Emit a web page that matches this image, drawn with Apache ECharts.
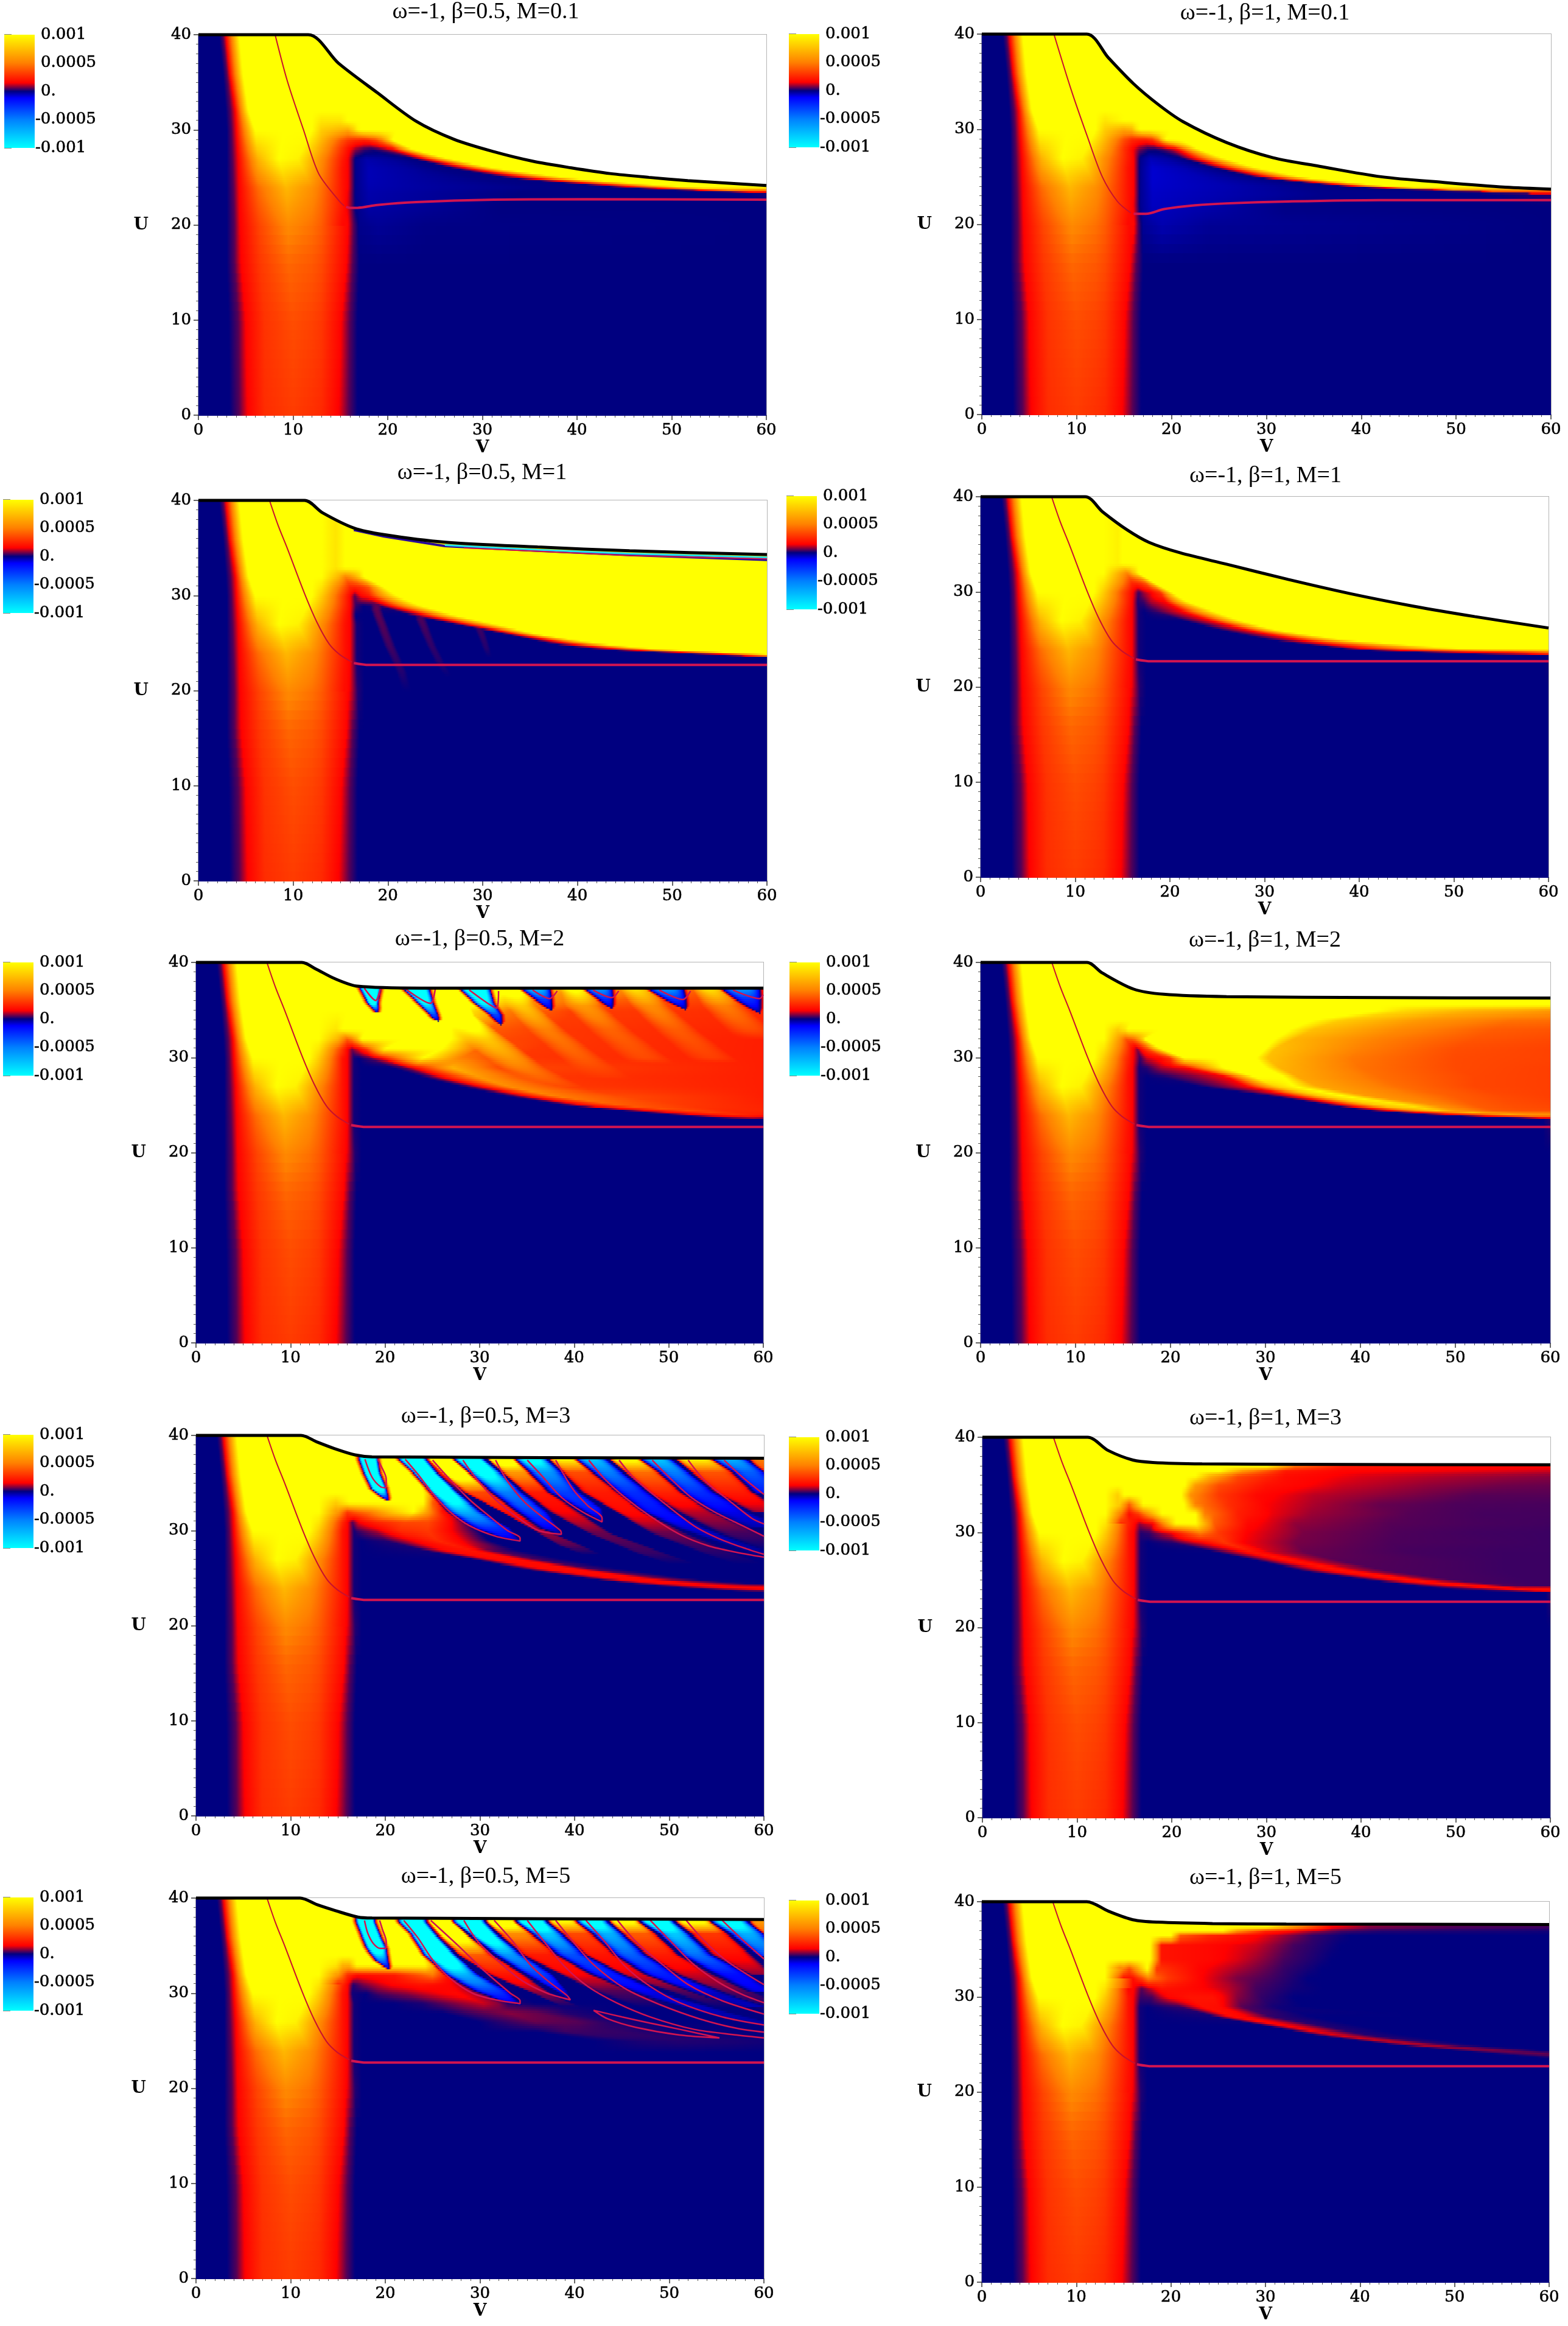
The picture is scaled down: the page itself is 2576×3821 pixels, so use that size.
<!DOCTYPE html>
<html>
<head>
<meta charset="utf-8">
<script src="https://cdn.jsdelivr.net/npm/echarts@6/dist/echarts.min.js"></script>
<style>html,body{margin:0;background:#fff}#main{width:2576px;height:3821px}</style>
</head>
<body>
<div id="main"></div>
<script>
"use strict"

// field values are in units of 0.0001, rows are [U, [V, value, V, value, ...]]
const colorStops = [[-10, [0, 255, 255]], [-5, [0, 128, 255]], [-1.2, [0, 0, 255]], [0, [0, 0, 128]], [1.5, [255, 0, 0]], [5, [255, 128, 0]], [10, [255, 255, 0]]];
const legendTicks = [-0.001, -0.0005, 0, 0.0005, 0.001];

// V <= 13 looks the same in every panel
const leftRows = [
    [0, [0, 0, 3.3, 0, 4.3, .5, 5.2, 1.5, 7, 2.7, 10, 3.1, 12, 2.8, 13, 2.6]],
    [10, [0, 0, 3.2, 0, 4.2, .5, 5, 1.5, 7, 2.9, 10, 3.6, 12, 3.3, 13, 3]],
    [16, [0, 0, 3, 0, 3.8, .5, 4.5, 1.5, 6.5, 3, 9.5, 4.3, 12, 3.9, 13, 3.5]],
    [20, [0, 0, 3, 0, 3.8, .5, 4.4, 1.5, 6.5, 3.4, 9.5, 5.4, 12, 4.6, 13, 4]],
    [24, [0, 0, 3, 0, 3.7, .5, 4.3, 1.5, 6.3, 4.4, 9.3, 7.2, 12, 5.6, 13, 4.6]],
    [27, [0, 0, 3, 0, 3.6, .5, 4.2, 1.5, 6.3, 7, 8.5, 10, 10.5, 9.5, 13, 5.5]],
    [30, [0, 0, 3, 0, 3.5, .5, 4, 1.5, 6, 10, 9, 10, 12, 10, 13, 8]],
    [32, [0, 0, 2.9, 0, 3.4, .5, 3.9, 1.5, 5.3, 10, 9, 10, 12, 10, 13, 10]],
    [36, [0, 0, 2.6, 0, 3, .5, 3.3, 1.5, 4.7, 10, 9, 10, 12, 10, 13, 10]],
    [40, [0, 0, 2.2, 0, 2.6, .5, 2.9, 1.5, 4.3, 10, 9, 10, 12, 10, 13, 10]]
];
const tailRows = [
    [0, [14.8, 1.5, 15.9, .5, 16.8, 0, 17.5, 0, 60, 0]],
    [10, [15, 1.6, 16, .5, 16.8, 0, 17.5, 0, 60, 0]],
    [16, [15.6, 1.6, 16.3, .5, 17, 0, 17.5, 0, 60, 0]],
    [20, [15.6, 1.8, 16, 1.4, 16.8, .2, 17.5, 0, 60, 0]]
];
const wall = [15.5, 2, 16, 1.5, 16.7, .1, 17.5, 0];
const wallM1 = [15.4, 2, 16, 1.5, 16.7, .1, 17.5, 0];

const rowsB05M01 = [
    [20, [15.7, 1.7, 16.4, .5, 17, -.1, 19, -.2, 24, -.05, 60, 0]],
    [22, [15.2, 2, 15.8, 1.3, 16.6, -.05, 18, -.35, 24, -.2, 32, 0, 57, 0, 59, 0, 60, 0, 60, 0]],
    [23.4, [15.2, 2, 15.8, 1.4, 16.6, -.1, 18, -.4, 24, -.25, 34, 0, 56, 0, 58, 0, 60, .1, 60, .1]],
    [24, [15.2, 2, 15.8, 1.5, 16.6, -.1, 18, -.45, 24, -.3, 36, -.05, 44.5, 0, 46.5, 1.5, 52, 10, 60, 10]],
    [25, [15.2, 2, 15.8, 1.5, 16.6, -.1, 18, -.5, 23, -.3, 29, -.05, 32.5, 0, 34.5, 1.5, 39, 10, 60, 10]],
    [26, [15.2, 2, 15.8, 1.5, 16.6, -.1, 18, -.5, 22, -.3, 25, -.05, 27, 0, 28.5, 1.5, 31.5, 10, 60, 10]],
    [27, [15.2, 2.2, 15.8, 1.5, 16.6, -.1, 17.8, -.4, 20, -.25, 22, -.05, 22.7, 0, 23.8, 1.5, 26.5, 10, 60, 10]],
    [28, [15, 3, 15.8, 1.8, 16.6, .8, 17.5, .3, 18.3, .1, 19, .3, 19.8, .8, 20.6, 1.5, 22.7, 10, 60, 10]],
    [29, [15, 4, 15.8, 3, 16.6, 2.6, 17.5, 2.4, 18, 2.6, 18.8, 3.5, 19.4, 5, 20, 7.5, 20.5, 10, 60, 10]],
    [30, [15, 7, 15.8, 6.5, 16.4, 8, 16.8, 9.5, 17.2, 10, 18, 10, 19, 10, 20, 10, 21, 10, 60, 10]],
    [31, [15, 9, 15.8, 10, 60, 10]],
    [32, [15, 10, 60, 10]]
];
const rowsB1M01 = [
    [20, [16, 1.7, 16.5, .5, 17, -.2, 19, -.45, 24, -.2, 60, 0]],
    [22, [15.4, 2, 16, 1.4, 16.7, -.15, 18, -.6, 24, -.4, 32, -.05, 57, 0, 59, 0, 60, 0, 60, 0]],
    [23.2, [15.4, 2, 16, 1.5, 16.7, -.15, 18, -.65, 25, -.45, 36, -.1, 54, 0, 60, .2, 60, .2, 60, .2]],
    [24, [15.4, 2, 16, 1.5, 16.7, -.15, 18, -.7, 26, -.45, 34, -.1, 38.5, 0, 40, 1.5, 43.5, 10, 60, 10]],
    [25, [15.4, 2, 16, 1.5, 16.7, -.15, 18, -.75, 23, -.5, 27, -.15, 28.7, 0, 30, 1.5, 33.8, 10, 60, 10]],
    [26, [15.4, 2, 16, 1.5, 16.7, -.15, 18, -.75, 21, -.5, 23.5, -.15, 24.5, 0, 25.7, 1.5, 29, 10, 60, 10]],
    [27, [15.4, 2.2, 16, 1.5, 16.7, -.1, 17.8, -.5, 19.5, -.3, 20.5, -.1, 21, 0, 22.3, 1.5, 25.5, 10, 60, 10]],
    [28, [15, 2.8, 15.8, 1.7, 16.6, .7, 17.5, .2, 18.2, .15, 19, .4, 19.8, .9, 20.5, 1.5, 22.8, 10, 60, 10]],
    [29, [15, 3.6, 15.8, 2.6, 16.6, 2.4, 17.3, 2.4, 18, 3, 18.6, 5, 19, 8, 19.4, 10, 21, 10, 60, 10]],
    [30, [15, 6.5, 15.8, 7, 16.3, 9, 16.7, 10, 17.5, 10, 18, 10, 19, 10, 20, 10, 21, 10, 60, 10]],
    [31, [15, 10, 60, 10]]
];
const rowsB05M1 = [
    [23.5, [...wallM1, 59, 0, 59.5, 0, 60, 0, 60, 0]],
    [23.9, [...wallM1, 52, 0, 55, 1.5, 60, 10, 60, 10]],
    [24.4, [...wallM1, 42, 0, 44.3, 1.5, 48.8, 10, 60, 10]],
    [25, [...wallM1, 37, 0, 38.7, 1.5, 42.3, 10, 60, 10]],
    [26, [...wallM1, 32.5, 0, 33.5, 1.5, 35.8, 10, 60, 10]],
    [27, [...wallM1, 27.3, 0, 28.3, 1.5, 31.5, 10, 60, 10]],
    [28, [15.4, 2.2, 16, 1.5, 16.6, 0, 17.5, 0, 22.3, 0, 23.8, 1.5, 27, 10, 60, 10]],
    [29, [15.3, 2.8, 16, 1.6, 16.6, .3, 17.4, 0, 19, .2, 20, 1.5, 23.4, 10, 60, 10]],
    [30, [14.8, 4, 16, 1.6, 16.5, .5, 17.1, 1.5, 17.5, 1.8, 18, 2.2, 21, 10, 60, 10]],
    [31, [14.8, 5, 16, 2.5, 16.5, 2.5, 17, 2.7, 17.5, 3.2, 18, 4, 19.5, 10, 60, 10]],
    [32, [14.8, 7, 15.5, 5, 16, 5.5, 16.5, 6.5, 17, 8, 17.2, 9, 17.5, 10, 60, 10]],
    [33, [14.5, 9, 15.5, 10, 16, 10, 16.5, 10, 17, 10, 17.2, 10, 17.5, 10, 60, 10]]
];
const rowsB1M1 = [
    [23.3, [...wall, 58, 0, 59, 0, 59.5, 0, 60, .1]],
    [23.8, [...wall, 43, 0, 48, 1.5, 55, 3, 60, 6]],
    [24, [...wall, 39, 0, 41, 1.5, 52, 10, 60, 10]],
    [25, [...wall, 30.5, 0, 33.5, 1.5, 38.5, 10, 60, 10]],
    [26, [...wall, 25.5, 0, 28.3, 1.5, 31.5, 10, 60, 10]],
    [27, [...wall, 21.5, 0, 24.3, 1.5, 27.5, 10, 60, 10]],
    [28, [15.5, 2.2, 16, 1.5, 16.7, .1, 17.3, 0, 18.5, .3, 21.3, 1.5, 24.7, 10, 60, 10]],
    [29, [15.5, 2.5, 16, 1.6, 16.6, .2, 17.2, .3, 18, 1, 19.5, 1.5, 21.9, 10, 60, 10]],
    [30, [15, 3.5, 16, 1.7, 16.7, .3, 17.3, 1, 18, 1.5, 19, 3, 20.2, 10, 60, 10]],
    [31, [15, 5, 16, 2.5, 16.5, 2.6, 17, 3, 17.5, 4, 18, 7, 18.4, 10, 60, 10]],
    [32, [14.5, 7, 15.5, 5, 15.8, 6, 16, 7, 16.3, 8, 16.5, 9, 16.7, 10, 60, 10]],
    [33, [14.5, 9.5, 15, 10, 15.8, 10, 16, 10, 16.3, 10, 16.5, 10, 16.7, 10, 60, 10]]
];
const rowsB05M2 = [
    [23.5, [...wall, 57, 0, 58, 0, 59, 0, 59.5, 0, 59.8, 0, 60, 0]],
    [24, [...wall, 51, 0, 52, .5, 53.5, 1.5, 58, 2.6, 59, 2.4, 60, 2.2]],
    [24.5, [...wall, 45, 0, 46, .5, 47.5, 1.5, 52, 3.5, 56, 2.6, 60, 2.5]],
    [25, [...wall, 39, 0, 40, .5, 41, 1.5, 45, 4, 52, 3, 60, 2.4]],
    [26, [...wall, 33, 0, 34, .5, 35, 1.5, 38, 5, 45, 3.5, 60, 2.3]],
    [27, [...wall, 28, 0, 29, .5, 30, 1.5, 33, 5.5, 40, 3, 60, 2.3]],
    [28, [...wall, 24, 0, 25, .5, 26, 1.5, 30, 6, 36, 3, 60, 2.3]],
    [29, [...wall, 20.7, 0, 22, .5, 23, 1.5, 27, 7, 32, 3.5, 60, 2.3]],
    [30, [15.5, 2, 16, 1.5, 16.7, .1, 17.2, 0, 18.3, .5, 19.5, 1.5, 24, 10, 28, 5, 33, 3, 60, 2.3]],
    [31, [15, 4, 16, 1.6, 16.5, .7, 17.2, 1.5, 18, 3, 20, 10, 26, 10, 30, 4, 36, 3, 60, 2.3]],
    [32, [15, 7, 16, 4, 16.5, 5, 17, 7, 17.5, 10, 22, 10, 27, 10, 31, 3.6, 38, 3, 60, 2.3]],
    [33, [14.8, 9, 15.5, 10, 16, 10, 17, 10, 18, 10, 22, 10, 27, 10, 31, 4, 38, 3, 60, 2.4]],
    [35, [15, 10, 16, 10, 17, 10, 18, 10, 20, 10, 24, 10, 28, 10, 33, 5, 40, 3.2, 60, 2.6]],
    [37.3, [15, 10, 16, 10, 17, 10, 18, 10, 22, 10, 28, 10, 34, 10, 40, 6, 50, 5, 60, 3]]
];
const rowsB1M2 = [
    [23.6, [...wall, 58, 0, 58.5, 0, 59, 0, 59.3, 0, 59.5, .1, 59.7, .1, 59.8, .2, 59.9, .2, 60, .3]],
    [24, [...wall, 48, 0, 49.5, .8, 50.5, 1.5, 56, 5, 57.5, 6, 58, 6, 58.5, 6, 59, 6, 60, 6]],
    [24.5, [...wall, 41, 0, 42, .8, 43, 1.5, 46, 6, 48, 8, 50, 6, 54, 4, 57, 3.7, 60, 3.6]],
    [25, [...wall, 37, 0, 37.8, .8, 38.5, 1.5, 42, 8, 45, 9, 48, 5.5, 52, 4, 56, 3.6, 60, 3.4]],
    [26, [...wall, 31, 0, 32, .8, 33, 1.5, 36, 8, 38.5, 10, 41, 6, 50, 4, 55, 3.5, 60, 3.2]],
    [27, [...wall, 23, 0, 26, .8, 28, 1.5, 31, 8, 33, 10, 35.5, 6.5, 44, 4.5, 52, 3.4, 60, 3.2]],
    [28, [...wall, 19.3, .1, 23, .8, 26, 1.5, 29, 10, 32, 10, 33.5, 6.5, 42, 4.5, 52, 3.4, 60, 3.2]],
    [29, [15.5, 2.2, 16, 1.5, 16.7, .1, 17.5, .2, 19, 1, 20, 1.2, 21.5, 1.5, 25.5, 10, 30, 10, 31.5, 7, 40, 4.6, 50, 3.5, 60, 3.2]],
    [30, [15.2, 3, 16, 1.6, 16.8, .3, 17.5, 1.2, 19, 1.8, 20, 3, 21.5, 10, 25, 10, 29, 10, 30.2, 7.5, 39, 4.8, 50, 3.5, 60, 3.3]],
    [31, [15, 4.2, 16, 1.7, 16.5, .8, 17, 2, 17.7, 4, 18.3, 7, 19, 10, 25, 10, 30, 10, 31, 7.5, 40, 5, 50, 3.6, 60, 3.3]],
    [32, [14.6, 6, 15.3, 3.8, 15.8, 4, 16.2, 4.5, 16.6, 6, 17, 8, 17.2, 10, 25, 10, 31, 10, 33, 7, 42, 5, 52, 3.8, 60, 3.5]],
    [33, [14.4, 8, 15.2, 9, 15.5, 10, 16, 10, 17, 10, 18, 10, 19, 10, 25, 10, 32.6, 10, 35, 7.5, 44, 5.4, 54, 4, 60, 3.8]],
    [34, [15, 10, 15.5, 10, 16, 10, 16.5, 10, 17, 10, 18, 10, 25, 10, 30, 10, 35, 10, 38, 8, 46, 6, 56, 4.6, 60, 4.5]],
    [35, [15, 10, 15.5, 10, 16, 10, 16.5, 10, 17, 10, 18, 10, 25, 10, 35, 10, 42, 10, 45, 8.5, 52, 7, 57, 6.5, 60, 6]],
    [35.6, [15, 10, 15.5, 10, 16, 10, 16.5, 10, 17, 10, 18, 10, 25, 10, 35, 10, 42, 10, 45, 10, 52, 10, 57, 10, 60, 10]]
];
const rowsB05M3 = [
    [23.6, [...wall, 58, 0, 58.5, 0, 59, 0, 59.5, 0, 60, 0, 60, 0]],
    [24, [...wall, 52, 0, 55, 1, 58, 1.7, 59, 1.9, 60, 2, 60, 2]],
    [24.5, [...wall, 46, 0, 49, 1.5, 52, 1.7, 55, .8, 58, .1, 60, 0]],
    [25, [...wall, 41.5, 0, 44, 1.6, 47, 1.7, 49, .7, 52, 0, 60, 0]],
    [26, [...wall, 34.5, 0, 37, 1.7, 40, 1.8, 42, .4, 45, 0, 60, 0]],
    [27, [...wall, 29.5, 0, 31.5, 1.7, 34, 1.8, 36, .4, 39, 0, 60, 0]],
    [28, [...wall, 24, .1, 26.5, 1.8, 29, 2, 31, .6, 34, 0, 60, 0]],
    [29, [...wall, 20, .2, 23, 1.5, 25.5, 2.6, 28, 1.5, 31, 0, 60, 0]],
    [30, [15.5, 2, 16, 1.5, 16.7, .1, 17, .3, 19, 1, 21.5, 2.6, 24.5, 3, 27, 1.5, 30, 0, 60, 0]],
    [31, [15.5, 2.5, 16, 1.6, 16.5, .5, 17.2, 1.5, 19, 2.5, 22, 3.5, 24.5, 3.5, 27, 1.5, 29, 0, 60, 0]],
    [32, [15, 6, 16, 3, 17, 4, 18.5, 5, 21, 8, 23, 10, 24.5, 6, 26, 2, 28, 0, 60, 0]],
    [33, [14.8, 8, 15.5, 9, 16.2, 10, 24, 10, 25, 4, 27, 0, 60, 0]],
    [34, [15, 10, 24, 10, 25.5, 3, 28, 0, 60, 0]],
    [40, [15, 10, 22, 10, 25, 3, 30, 0, 60, 0]]
];
const rowsB1M3 = [
    [23.7, [...wall, 58, 0, 58.5, 0, 59, 0, 59.3, 0, 59.5, 0, 59.7, .1, 59.9, .2, 60, .4]],
    [24, [...wall, 50, 0, 54, .5, 57, 1.5, 58, 2, 58.5, 2, 59, 2.2, 59.5, 2.2, 60, 2.2]],
    [24.5, [...wall, 45.5, 0, 48, 1, 50.5, 2, 53, 1.5, 55, .5, 57, .4, 58.5, .35, 60, .35]],
    [25, [...wall, 41, 0, 43.5, 1.4, 45.5, 2, 47.5, 1, 50, .4, 54, .38, 57, .35, 60, .35]],
    [26, [...wall, 33.8, 0, 36.5, 1.4, 38.5, 2, 40.5, 1, 43, .45, 50, .4, 55, .35, 60, .35]],
    [27, [...wall, 29.5, 0, 31, 1, 33, 2, 35, 1.2, 38, .5, 50, .4, 55, .35, 60, .35]],
    [28, [...wall, 24.5, 0, 27, 1.2, 28.5, 2, 30.5, 1.2, 34, .6, 45, .4, 55, .35, 60, .35]],
    [29, [...wall, 20, .2, 23, 1.4, 25.5, 3, 27.5, 1.5, 33, .7, 43, .45, 55, .38, 60, .35]],
    [30, [15.5, 2, 16, 1.5, 16.7, .2, 17.6, .3, 20, 1.5, 23, 5, 25, 3, 28, 1.5, 34, .7, 44, .45, 52, .38, 60, .35]],
    [31, [15.3, 2.6, 16, 1.7, 16.6, .9, 18, 1.5, 20.5, 10, 22.5, 10, 24.5, 4, 28, 1.7, 33, .85, 43, .5, 52, .42, 60, .38]],
    [32, [14.6, 5, 15.5, 1.8, 16.5, 3, 19, 10, 22.5, 10, 23.5, 5, 27, 2.3, 30.6, 1.4, 34.8, .9, 40, .7, 45, .5, 53, .4, 60, .4]],
    [33, [14.5, 8, 15.5, 4, 17, 10, 21.3, 10, 22.5, 5, 26, 2.7, 30, 1.5, 35, 1, 42, .6, 50, .45, 60, .42]],
    [34, [14.3, 8, 15, 10, 21, 10, 22, 5.5, 25, 3, 29, 1.7, 35, 1.1, 43, .8, 52, .5, 60, .5]],
    [35, [15, 10, 21.4, 10, 22.5, 6, 25, 3.5, 30, 1.9, 38, 1.2, 47, .85, 55, .65, 60, .6]],
    [36, [15, 10, 22.5, 10, 24, 7, 27, 3.5, 32, 1.8, 40, 1.3, 50, 1, 60, .8]],
    [36.5, [15, 10, 25, 10, 27.5, 6, 32, 2.2, 38, 1.6, 50, 1.4, 60, 1.2]],
    [37, [15, 10, 30, 10, 33, 4.5, 38, 2.2, 50, 1.8, 60, 1.6]]
];
const rowsB05M5 = [
    [23.8, [...wall, 60, 0]],
    [25, [...wall, 42, 0, 47, .15, 51, .2, 57, .15, 60, .1]],
    [26, [...wall, 36, 0, 39, .35, 45, .3, 50, .1, 60, 0]],
    [27, [...wall, 30, 0, 33, .3, 36, .6, 40.5, .5, 44, .2, 50, 0, 60, 0]],
    [28, [...wall, 26, 0, 28.3, .3, 33, .8, 36, .6, 39, .2, 44, 0, 60, 0]],
    [29, [...wall, 21, 0, 24, .15, 28.3, .9, 30.4, 1.2, 32, .8, 33, .2, 36, 0, 60, 0]],
    [30, [15.5, 2, 16, 1.5, 16.5, .1, 18, 0, 19.2, .4, 22.2, .8, 25.3, 1.4, 27.4, 1.7, 29, 1.2, 31, .3, 34, 0, 60, 0]],
    [31, [15.5, 2.5, 16, 1.6, 16.6, .2, 17.7, .7, 20.7, 1.6, 23.8, 2, 26.8, 1.6, 29, .6, 33, 0, 60, 0]],
    [32, [15, 6, 16, 2.8, 17, 1.8, 19, 2, 21, 2.2, 23.8, 4, 25, 5, 26.5, 2, 28, .3, 30, 0, 60, 0]],
    [33, [14.8, 9, 15.5, 7, 16.2, 7, 17, 10, 24.2, 10, 25.5, 5, 27, .5, 29, 0, 60, 0]],
    [34, [15, 10, 24, 10, 25, 4, 27, 0, 60, 0]],
    [40, [15, 10, 22, 10, 24.5, 3, 30, 0, 60, 0]]
];
const rowsB1M5 = [
    [23.6, [...wall, 59.5, 0, 59.7, 0, 59.8, 0, 59.9, 0, 60, 0, 60, 0, 60, 0]],
    [24, [...wall, 55, 0, 57, .3, 58.5, .5, 60, .65, 60, .65, 60, .65, 60, .65]],
    [24.5, [...wall, 49.5, 0, 52, .7, 54, .75, 57, .3, 58, .1, 59, 0, 60, 0]],
    [25, [...wall, 43.5, 0, 45.5, 1, 47, 1, 49, .3, 52, 0, 56, 0, 60, 0]],
    [26, [...wall, 35.5, 0, 37.5, 1.3, 39, 1, 41, .2, 45, 0, 50, 0, 60, 0]],
    [27, [...wall, 30, 0, 32, 1.6, 33.5, 1.2, 36, .2, 40, 0, 50, 0, 60, 0]],
    [28, [...wall, 24.5, .1, 26.5, 1.8, 28, 1.5, 30.5, .3, 35, 0, 50, 0, 60, 0]],
    [29, [...wall, 21, .3, 23.5, 1.9, 25, 1.8, 27.5, .5, 31, .1, 34, 0, 60, 0]],
    [30, [15.5, 2, 16, 1.5, 16.8, .3, 18, .4, 19.7, 1.6, 22, 2, 24.4, 2, 27, .8, 29.5, .3, 33, 0, 60, 0]],
    [31, [16, 1.6, 16.9, .5, 17.6, 1, 19, 2, 23, 1.6, 26, 1.1, 29, .4, 33, .1, 36, 0, 60, 0]],
    [32, [16, 1.8, 17, 3.5, 17.6, 5, 19.7, 3, 23.3, 1.5, 27, .7, 32, .25, 34.5, 0, 60, 0]],
    [33, [15, 5, 15.6, 3.5, 16.4, 6, 17.5, 10, 18.5, 3, 23, 1.6, 27, 1, 32, .3, 36, 0, 60, 0]],
    [34, [14.6, 10, 15, 10, 17.8, 10, 19, 2, 24, 1.7, 27, 1.3, 32, .4, 37, 0, 60, 0]],
    [35.5, [15, 10, 17.8, 10, 19, 2, 24, 1.7, 29, 1.2, 33, .4, 38, 0, 60, 0]],
    [36.5, [15, 10, 20, 10, 21, 4, 24, 2.6, 28, 1.8, 32, .9, 35, .3, 39, 0, 60, 0]],
    [37, [15, 10, 25.5, 10, 27, 6, 30, 2.5, 35, 1, 38, .4, 42, .2, 60, .1]],
    [37.4, [15, 10, 30, 10, 33, 6, 37, 1.6, 41, .8, 50, .5, 60, .4]]
];

// negative fins and positive streaks, each station is [U, V left, V right, peak]
const lobesB05M1 = [
    [[28.5, 18.2, 19.4, .55], [25, 19.5, 20.7, .4], [22, 20.9, 22, .2], [20, 21.5, 22.5, 0]],
    [[27.5, 22.9, 24.1, .45], [25, 24, 25, .3], [23, 25, 26, .2], [21.5, 26, 26.8, 0]],
    [[26.5, 29.2, 30.2, .35], [24.5, 30, 30.8, .2], [23.5, 30.4, 31, 0]]
];
const finsB05M2 = [
    [[37.6, 17.2, 19.6, -16], [35.8, 18.15, 19.25, -12], [35.2, 18.7, 19.3, -4], [34.8, 19.05, 19.2, 0]],
    [[37.6, 21.6, 24.6, -16], [35.8, 23.5, 25.1, -10], [34.3, 25, 25.65, -2], [33.9, 25.55, 25.65, 0]],
    [[37.6, 27.6, 31, -16], [35.8, 29.5, 31.5, -10], [34.5, 31.2, 32.3, -3], [33.5, 32.25, 32.35, 0]],
    [[37.6, 34, 37.4, -9], [36.2, 35.9, 37.6, -3], [35, 37.55, 37.65, 0]],
    [[37.6, 40.7, 44, -7], [36.2, 42.6, 44.1, -2.5], [35.2, 43.95, 44.05, 0]],
    [[37.6, 47.3, 51.5, -7], [36.2, 49.6, 51.8, -2.5], [35.1, 51.75, 51.85, 0]],
    [[37.6, 55.2, 59.6, -7], [36.2, 57.1, 59.7, -2.5], [34.7, 59.55, 59.65, 0]]
];
const lobesB05M2 = [
    [[37.3, 25.5, 28, 14], [34.5, 26, 29.5, 14], [32, 28, 33, 8], [29, 32, 37, 5], [27, 36, 41, 3.5], [25.5, 40, 45, 0]],
    [[37.3, 32.3, 34.5, 12], [35.5, 32.8, 36, 8], [33, 35, 39, 5], [30, 38.5, 43, 4], [28, 41, 46, 3], [26, 45, 50, 0]],
    [[37.3, 38.5, 41.5, 11], [35.5, 39, 43, 6], [33, 41.5, 46, 4.2], [30, 45, 50, 3.5], [27.5, 49, 54, 0]],
    [[37.3, 44.8, 48, 9], [35.5, 46, 50, 5.5], [33, 48.5, 53, 4], [30, 52, 57, 3.2], [28, 55, 60, 0]],
    [[37.3, 52.5, 56, 9], [35.5, 53.5, 58, 5], [33, 56, 61, 3.6], [30, 60, 65, 0]]
];
const finsB05M3 = [
    [[37.6, 17.2, 19.2, -16], [36.2, 17.7, 19.4, -16], [34.5, 18.5, 20.1, -14], [33.6, 19.6, 20.3, -3], [33.2, 20.25, 20.35, 0]],
    [[37.6, 21.4, 24.3, -16], [36.2, 22.9, 25.4, -16], [34.1, 24.8, 27.6, -14], [32, 26.8, 30.1, -7], [30.3, 29.5, 33.2, -2.5], [29.2, 32.6, 34.1, -.8], [28.9, 34.35, 34.45, 0]],
    [[37.6, 27.3, 30.4, -16], [36.2, 28.9, 32.1, -12], [34.1, 31.3, 34.4, -5], [32, 34.1, 37.1, -3], [30.3, 36.5, 38.3, -1], [29.6, 38.55, 38.65, 0]],
    [[37.6, 33.8, 37, -12], [36.2, 35.3, 38.6, -6], [34.1, 37.4, 40.5, -3], [32.4, 40.5, 42.9, -2], [30.9, 42.95, 43.05, 0]],
    [[37.6, 40.2, 43.3, -8], [36.2, 42, 45, -5], [34.1, 44.7, 47.7, -2.5], [32, 47.4, 50.5, -1.6], [30.3, 51, 53.8, -.8], [28.8, 55.3, 57.8, -.4], [27.7, 58.7, 61, -.2]],
    [[37.6, 47, 50.2, -8], [36.2, 49, 52, -5], [34.1, 51.4, 54.7, -2.5], [32, 54.7, 58.4, -1], [30.5, 58, 62, -.5]],
    [[37.6, 54.6, 58.1, -7], [36.2, 56.8, 60, -4], [34.1, 59, 62, -2]]
];
const lobesB05M3 = [
    [[37.6, 24.5, 27.3, 16], [36.2, 25.9, 28.9, 14], [34.1, 28.3, 31.3, 3.5], [32, 32.3, 34, 1.9], [30.3, 35.3, 36.5, 1], [28.5, 38.3, 40.8, .5], [27.5, 41, 43, 0]],
    [[37.6, 30.8, 33.8, 14], [36.2, 32.3, 35.3, 6], [34.1, 34.7, 37.4, 2.2], [32, 37.4, 40.5, 1.5], [29.8, 41.4, 43.8, .6], [27.7, 46.5, 49.6, .3], [26.5, 50, 53, 0]],
    [[37.6, 37.3, 40.5, 10], [36.2, 38.6, 42, 3.6], [34.1, 40.8, 44.7, 2.2], [32, 44.4, 47.4, 1.7], [29.8, 48, 51.7, .6], [27.7, 53.5, 57, .2], [26.5, 57, 60, 0]],
    [[37.6, 43.7, 47.1, 11], [36.2, 45.3, 49, 4.5], [34.1, 47.7, 51.4, 2.4], [32, 51, 54.7, 1.1], [29.8, 55.3, 59.6, .4], [28, 60, 64, 0]],
    [[37.6, 50.7, 54.7, 10], [36.2, 52.3, 56.8, 3.8], [34.1, 54.7, 59, 2.2], [32, 58.7, 62, .9]],
    [[37.6, 58.5, 61, 5], [35, 60, 64, 2]]
];
const finsB05M5 = [
    [[37.6, 16.9, 18.9, -16], [36.3, 17.4, 19.4, -16], [34.8, 18, 20.1, -14], [33.5, 19, 20.3, -5], [32.6, 20.35, 20.45, 0]],
    [[37.6, 21.4, 24.3, -16], [36.3, 22.7, 25.3, -16], [34.1, 24.1, 27.4, -16], [32, 26.5, 29.8, -7], [30.3, 29.5, 32.9, -3], [29.2, 32.5, 34, -1], [28.8, 34.35, 34.45, 0]],
    [[37.6, 27.2, 30.5, -16], [36.3, 28.9, 31.7, -14], [34.1, 31.7, 34.4, -6], [32, 35, 37.7, -3], [30.3, 38, 39.2, -1], [29.3, 39.5, 39.6, 0]],
    [[37.6, 33.9, 37, -16], [36.3, 35.6, 38.6, -8], [34.1, 38.3, 41, -3.5], [32, 42, 45, -2], [29.9, 47, 49.9, -.9], [28.1, 53.2, 56.2, -.5], [26.9, 58.7, 61, -.3]],
    [[37.6, 40.3, 43.4, -13], [36.3, 42, 45, -7], [34.1, 44.4, 47.4, -4], [32, 47.7, 50.8, -2], [29.9, 53.2, 56.2, -.6], [28.6, 57.8, 60.5, -.5]],
    [[37.6, 47, 50.4, -15], [36.3, 49, 52, -8], [34.1, 51.4, 54.4, -4.5], [32, 55, 58.4, -1.5], [30.3, 58.4, 61, -1]],
    [[37.6, 54.5, 58.2, -13], [36.3, 56.5, 59.9, -7], [34.1, 59.3, 62, -3.5]]
];
const lobesB05M5 = [
    [[37.6, 24.5, 27.3, 16], [36.3, 25.6, 28.6, 14], [34.1, 27.7, 31.3, 4], [32, 31, 34.7, 2], [29.9, 35.9, 37.7, .7], [28.5, 39, 41, 0]],
    [[37.6, 30.6, 33.8, 14], [36.3, 32, 35.6, 5.5], [34.1, 34.4, 38.3, 2.2], [32, 38.6, 42, 1.5], [30.3, 42, 46.8, .5], [28.5, 47, 51, 0]],
    [[37.6, 37.2, 40.3, 10], [36.3, 38.6, 42, 3.5], [34.1, 41, 44.4, 2], [32, 45, 47.7, 1.3], [30.3, 49.9, 53.2, .5], [28.5, 55, 58, 0]],
    [[37.6, 43.7, 46.8, 11], [36.3, 45, 48.6, 4], [34.1, 47.4, 51, 2.2], [32, 50.8, 54.7, 1.2], [29.9, 56.2, 59.6, .4], [28, 60, 64, 0]],
    [[37.6, 50.7, 54.4, 11], [36.3, 52.3, 56.2, 3], [34.1, 54.4, 58.7, 1.8], [32, 58.4, 61, .8]],
    [[37.6, 58.5, 61, 6], [35, 60, 64, 2]]
];

// black outer edge of each run
const edgeB05M01 = [[0, 40], [11.6, 40], [14.8, 37], [18.9, 33.9], [23, 30.9], [27, 29], [31.2, 27.7], [35.3, 26.7], [39.4, 26], [43.5, 25.4], [47.6, 25], [51.7, 24.66], [55.8, 24.4], [60, 24.14]];
const edgeB1M01 = [[0, 40], [11.06, 40], [13.35, 37.5], [15.97, 34.8], [18.6, 32.6], [21.2, 30.8], [25.8, 28.6], [30.7, 27], [35.6, 26.1], [42.1, 25], [48.7, 24.4], [55.2, 23.9], [60, 23.7]];
const edgeB05M1 = [[0, 40], [11.2, 40], [13.1, 38.7], [16.4, 37.1], [19.6, 36.4], [26.1, 35.6], [35.8, 35.1], [45.5, 34.7], [60, 34.3]];
const edgeB1M1 = [[0, 40], [11.05, 40], [12.9, 38.4], [15.5, 36.5], [17.8, 35.2], [21.1, 34.1], [26, 32.9], [32.5, 31.3], [39.1, 29.8], [45.7, 28.5], [52.2, 27.4], [60, 26.2]];
const edgeB05M2 = [[0, 40], [11.2, 40], [12.7, 39.3], [14.66, 38.3], [17.1, 37.5], [23.8, 37.3], [60, 37.3]];
const edgeB1M2 = [[0, 40], [11.2, 40], [12.8, 38.9], [16.1, 37.2], [19.3, 36.65], [25.9, 36.4], [42.2, 36.3], [60, 36.25]];
const edgeB05M3 = [[0, 40], [11.1, 40], [12.8, 39.3], [14.66, 38.6], [16.8, 37.95], [18.6, 37.75], [60, 37.6]];
const edgeB1M3 = [[0, 40], [11.1, 40], [13.3, 38.6], [15.9, 37.6], [18, 37.35], [23.2, 37.2], [33.7, 37.15], [60, 37.1]];
const edgeB05M5 = [[0, 40], [11, 40], [12.8, 39.3], [14.66, 38.7], [17.1, 38], [18.6, 37.9], [60, 37.75]];
const edgeB1M5 = [[0, 40], [11.1, 40], [13.4, 39], [16, 38.1], [18.6, 37.85], [24.4, 37.7], [32.2, 37.65], [60, 37.6]];

// red zero contours
const leftContour = [[7.5, 40], [8.4, 37.4], [9.4, 34.9], [11.2, 30.2], [12.5, 27.2], [13.8, 24.9], [14.9, 23.8], [16.2, 23]];
const flatContour = [[16.4, 22.9], [18, 22.7], [60, 22.7]];
const contoursB05M01 = [[[8.1, 40], [9.4, 35.1], [11.1, 30], [12.7, 25.4], [14.8, 22.6], [15.4, 22]], [[15.6, 21.9], [16, 21.8], [16.8, 21.8], [18.9, 22.1], [23, 22.4], [31.2, 22.65], [41, 22.7], [60, 22.65]]];
const contoursB1M01 = [[[7.6, 40], [9.4, 34.2], [11.1, 29.3], [12.7, 25], [14.3, 22.4], [15.7, 21.2]], [[16, 21.1], [17.3, 21.1], [19.2, 21.6], [22.5, 22], [25.8, 22.2], [32.3, 22.4], [42, 22.55], [60, 22.55]]];
const contoursB05M2 = [
    [[17.8, 37.3], [19, 36], [19.5, 37.3]], [[22.2, 37.2], [24.8, 35.7], [25.3, 37.2]], [[28.9, 37.1], [31.8, 35.2], [32, 37]],
    [[35.6, 37.1], [37.4, 36.2], [38.2, 37]], [[42, 37.1], [44, 36.3], [44.7, 37]], [[49, 37.1], [51.5, 36.1], [52.3, 37]], [[56.8, 37.1], [59.6, 36.2], [60, 36.6]]
];
const contoursB05M3 = [
    [[17.85, 37.5], [18.6, 35.6], [19.5, 34.6], [20.06, 34.5], [20.1, 35.4], [19.5, 36.9], [19.2, 37.5]],
    [[22.1, 37.5], [23.46, 35.9], [25, 33.9], [26.8, 32], [28.9, 30.5], [31.65, 29.4], [34.24, 28.9], [34.24, 29.2], [32.9, 30], [31, 31.5], [28.9, 33.25], [26.8, 35.4], [25, 37.4]],
    [[28.2, 37.4], [29.5, 35.6], [31.65, 33.25], [34.1, 31.3], [36.2, 30], [38.6, 29.6], [38.5, 30], [36.5, 31.5], [34.7, 33], [32.9, 35.2], [31.65, 37.4]],
    [[35, 37.4], [36.5, 35.8], [38.6, 33.5], [40.76, 32], [42.9, 30.9], [42.9, 31.3], [41.4, 32.6], [39.85, 34.3], [38, 37.4]],
    [[41.5, 37.4], [43.2, 35.4], [45.3, 33.5], [48, 31.5], [51.1, 29.6], [54.1, 28.4], [57.15, 27.7], [60, 27.2]],
    [[44.7, 37.4], [46.2, 35.6], [49, 33.25], [52.6, 30.5], [55.6, 29], [58.7, 27.9], [60, 27.5]],
    [[48.2, 37.4], [50.2, 35.4], [52.3, 33.5], [54.7, 32], [57.75, 30.5], [60, 29.4]],
    [[52, 37.4], [53.8, 35.2], [56.2, 33.25], [58.7, 31.3], [60, 30.7]],
    [[55.8, 37.4], [57.75, 35.6], [60, 33.8]]
];
const contoursB05M5 = [
    [[17.8, 37.65], [18.15, 36.3], [18.75, 35.2], [19.5, 34.7], [20.06, 34.7], [20.1, 35.4], [19.7, 36.7], [19.4, 37.65]],
    [[21.95, 37.65], [23.46, 35.8], [25, 33.5], [26.8, 31.6], [29.2, 30], [31.65, 29.3], [34.24, 28.9], [34.24, 29.2], [33.2, 30], [30.4, 32.4], [27.7, 35], [24.8, 37.65]],
    [[28.3, 37.65], [29.8, 35.4], [32, 33.3], [34.4, 31.35], [37.1, 30], [39.55, 29.3], [39.2, 29.75], [37.1, 31.35], [35.3, 33], [33.5, 35.4], [31.5, 37.65]],
    [[35, 37.65], [36.8, 35.4], [38.9, 32.85], [41.4, 30.7], [44.4, 29], [48, 27.5], [52.6, 26.2], [57.15, 25.6], [60, 25.3]],
    [[38, 37.65], [39.85, 35.4], [42, 33], [45.3, 30.5], [49, 28.8], [53.2, 27.3], [57.15, 26.3], [60, 25.9]],
    [[41.2, 37.65], [43.2, 35.4], [45.3, 32.85], [48, 30.7], [51.1, 29], [55.6, 27.5], [60, 26.65]],
    [[44.55, 37.65], [46.5, 35.4], [49.3, 33], [52, 30.9], [55.6, 29.2], [60, 27.8]],
    [[48, 37.65], [50.2, 35.4], [52.6, 33], [55.3, 31.1], [57.75, 29.85], [60, 29]],
    [[51.8, 37.65], [53.8, 35.4], [56.2, 33.3], [60, 30.9]],
    [[55.6, 37.65], [57.75, 35.6], [60, 33.6]],
    [[42, 28.2], [45, 27.5], [48, 26.85], [51.1, 26.2], [55.3, 25.3], [51.1, 25.6], [46.5, 26.4], [43.5, 27.3], [42, 28.2]]
];
// thin negative strip right under the edge for beta=0.5, M=1
const stripCyan = [[26, 35.3], [35.8, 34.8], [45.5, 34.4], [60, 34]];
const stripPurple = [[16.4, 36.9], [19.6, 36.2], [26, 35.2], [35.8, 34.7], [45.5, 34.25], [60, 33.75]];
const stripRed = [[28, 35], [35.8, 34.65], [45.5, 34.2], [60, 33.85]];

const titles = ["ω=-1, β=0.5, M=0.1", "ω=-1, β=1, M=0.1", "ω=-1, β=0.5, M=1", "ω=-1, β=1, M=1", "ω=-1, β=0.5, M=2", "ω=-1, β=1, M=2", "ω=-1, β=0.5, M=3", "ω=-1, β=1, M=3", "ω=-1, β=0.5, M=5", "ω=-1, β=1, M=5"];

const plotBoxes = [[326, 57, 933], [1613, 56, 935], [326, 822, 934], [1611, 816, 933], [322, 1581, 932], [1611, 1581, 936], [322, 2358, 933], [1614, 2361, 933], [322, 3118, 933], [1613, 3124, 932]];
const legendBoxes = [[7, 57], [1296, 56], [5, 821], [1292, 815], [5, 1581], [1297, 1581], [5, 2357], [1296, 2361], [5, 3117], [1296, 3122]];
const titleSpots = [[798, 20], [2078, 22], [792, 777], [2079, 782], [788, 1543], [2078, 1545], [798, 2327], [2079, 2330], [798, 3083], [2079, 3085]];

const panels = [
    { rows: rowsB05M01, edge: edgeB05M01, contours: contoursB05M01, fins: [], lobes: [], soft: 3 },
    { rows: rowsB1M01, edge: edgeB1M01, contours: contoursB1M01, fins: [], lobes: [], soft: 3 },
    { rows: rowsB05M1, edge: edgeB05M1, contours: [leftContour, flatContour], fins: [], lobes: lobesB05M1, soft: 2 },
    { rows: rowsB1M1, edge: edgeB1M1, contours: [leftContour, flatContour], fins: [], lobes: [], soft: 3 },
    { rows: rowsB05M2, edge: edgeB05M2, contours: [leftContour, flatContour, ...contoursB05M2], fins: finsB05M2, lobes: lobesB05M2, soft: 2 },
    { rows: rowsB1M2, edge: edgeB1M2, contours: [leftContour, flatContour], fins: [], lobes: [], soft: 3 },
    { rows: rowsB05M3, edge: edgeB05M3, contours: [leftContour, flatContour, ...contoursB05M3], fins: finsB05M3, lobes: lobesB05M3, soft: 5 },
    { rows: rowsB1M3, edge: edgeB1M3, contours: [leftContour, flatContour], fins: [], lobes: [], soft: 3 },
    { rows: rowsB05M5, edge: edgeB05M5, contours: [leftContour, flatContour, ...contoursB05M5], fins: finsB05M5, lobes: lobesB05M5, soft: 5 },
    { rows: rowsB1M5, edge: edgeB1M5, contours: [leftContour, flatContour], fins: [], lobes: [], soft: 3 }
];

function colorOf(v)
{
    if (v <= colorStops[0][0]) return `rgb(${colorStops[0][1].join(",")})`;
    for (let i = 1; i < colorStops.length; i++)
    {
        if (v <= colorStops[i][0])
        {
            const t = (v - colorStops[i - 1][0]) / (colorStops[i][0] - colorStops[i - 1][0]);
            const a = colorStops[i - 1][1], b = colorStops[i][1];
            return `rgb(${Math.round(a[0] + (b[0] - a[0]) * t)},${Math.round(a[1] + (b[1] - a[1]) * t)},${Math.round(a[2] + (b[2] - a[2]) * t)})`;
        }
    }
    return `rgb(${colorStops[colorStops.length - 1][1].join(",")})`;
}

function knotValue(k, v)
{
    if (v <= k[0]) return k[1];
    for (let i = 2; i < k.length; i += 2)
    {
        if (v <= k[i])
        {
            const dv = k[i] - k[i - 2];
            return dv <= 0 ? k[i + 1] : k[i - 1] + (k[i + 1] - k[i - 1]) * (v - k[i - 2]) / dv;
        }
    }
    return k[k.length - 1];
}

// shade between two read rows: slide the knots when they pair up, else fade
function rowAt(rows, u)
{
    if (u <= rows[0][0]) return rows[0][1];
    const last = rows[rows.length - 1];
    if (u >= last[0]) return last[1];
    let i = 1;
    while (rows[i][0] < u) i++;
    const t = (u - rows[i - 1][0]) / (rows[i][0] - rows[i - 1][0]);
    const a = rows[i - 1][1], b = rows[i][1];
    if (a.length === b.length) return a.map((x, j) => x + (b[j] - x) * t);
    const vs = [];
    for (let j = 0; j < a.length; j += 2) vs.push(a[j]);
    for (let j = 0; j < b.length; j += 2) vs.push(b[j]);
    vs.sort((p, q) => p - q);
    const out = [];
    vs.forEach(v => out.push(v, knotValue(a, v) + (knotValue(b, v) - knotValue(a, v)) * t));
    return out;
}

function stationAt(track, u)
{
    if (u >= track[0][0]) return track[0];
    if (u < track[track.length - 1][0]) return null;
    let i = 1;
    while (track[i][0] > u) i++;
    const a = track[i - 1], b = track[i], t = (u - a[0]) / (b[0] - a[0]);
    return [u, a[1] + (b[1] - a[1]) * t, a[2] + (b[2] - a[2]) * t, a[3] + (b[3] - a[3]) * t];
}

function stripStops(panel, u)
{
    const knots = rowAt(leftRows, u).concat(rowAt(panel.allRows, u));
    const lobes = panel.lobes.map(t => stationAt(t, u)).filter(Boolean);
    const fins = panel.fins.map(t => stationAt(t, u)).filter(Boolean);
    const stops = [];
    let prev = null, prevOff = 0;
    for (let i = 0; i <= 480; i++)
    {
        const vv = i / 8;
        let val = knotValue(knots, vv);
        for (const s of lobes)
        {
            if (vv > s[1] && vv < s[2] && s[3] > val)
                val += (s[3] - val) * (1 - Math.pow(Math.abs(2 * (vv - s[1]) / (s[2] - s[1]) - 1), panel.soft));
        }
        for (const s of fins)
        {
            if (vv >= s[1] && vv <= s[2])
                val = s[3] * (1 - Math.pow(Math.abs(2 * (vv - s[1]) / (s[2] - s[1]) - 1), 3));
            else if (val > 0)
            {
                const d = vv < s[1] ? s[1] - vv : vv - s[2];
                const w = 0.45 * Math.min(1, Math.abs(s[3]));
                if (d < w) val *= d / w;
            }
        }
        const col = colorOf(val), off = i / 480;
        if (col !== prev)
        {
            if (prev !== null && prevOff !== off - 1 / 480) stops.push({ offset: off - 1 / 480, color: prev });
            stops.push({ offset: off, color: col });
            prev = col;
            prevOff = off;
        }
    }
    stops.push({ offset: 1, color: prev });
    return stops;
}

panels.forEach(p =>
{
    p.allRows = tailRows.filter(r => r[0] < p.rows[0][0]).concat(p.rows);
});

// thin horizontal strips, fine above U=20 where the field changes
const strips = [];
for (let u = 0; u < 20; u += 1) strips.push([u, u + 1]);
for (let i = 0; i < 100; i++) strips.push([20 + i * 0.2, 20 + (i + 1) * 0.2]);

const fontSerif = "DejaVu Serif";
const axisText = { color: "#000", fontFamily: fontSerif, fontSize: 26, textBorderColor: "#000", textBorderWidth: 0.6 };

function fieldItem(panel)
{
    return (params, api) =>
    {
        const lo = api.value(0), hi = api.value(1);
        const a = api.coord([0, hi]), b = api.coord([60, lo]);
        const y0 = Math.round(a[1]), y1 = Math.round(b[1]);
        return {
            type: "rect",
            shape: { x: a[0], y: y0, width: b[0] - a[0], height: y1 - y0 + 1 },
            style: { fill: new echarts.graphic.LinearGradient(0, 0, 1, 0, stripStops(panel, (lo + hi) / 2)) }
        };
    };
}

function legendItem(params, api)
{
    const a = api.coord([0, 0.001]), b = api.coord([1, -0.001]);
    const stops = [];
    for (let i = 0; i <= 200; i++) stops.push({ offset: i / 200, color: colorOf(10 - i / 10) });
    return {
        type: "rect",
        shape: { x: a[0], y: a[1], width: b[0] - a[0], height: b[1] - a[1] },
        style: { fill: new echarts.graphic.LinearGradient(0, 0, 0, 1, stops) }
    };
}

const grid = [], xAxis = [], yAxis = [], series = [], title = [];

panels.forEach((p, idx) =>
{
    const box = plotBoxes[idx], gi = idx * 2;
    grid.push({ left: box[0], top: box[1], width: box[2], height: 625, show: true, borderColor: "#b4b4b4", borderWidth: 2, backgroundColor: "#fff" });
    xAxis.push({
        gridIndex: gi, type: "value", min: 0, max: 60, interval: 10, name: "V", nameLocation: "middle", nameGap: 40,
        nameTextStyle: { color: "#000", fontFamily: fontSerif, fontSize: 28, fontWeight: "bold" },
        axisLine: { show: true, onZero: false, lineStyle: { color: "#9a9ab4", width: 2 } },
        axisTick: { show: true, length: 8, lineStyle: { color: "#333", width: 1.5 } },
        minorTick: { show: true, splitNumber: 10, length: 4, lineStyle: { color: "#555", width: 1 } },
        splitLine: { show: false }, axisLabel: { ...axisText, margin: 12 }
    });
    yAxis.push({
        gridIndex: gi, type: "value", min: 0, max: 40, interval: 10, name: "U", nameLocation: "middle", nameGap: 82, nameRotate: 0,
        nameTextStyle: { color: "#000", fontFamily: fontSerif, fontSize: 28, fontWeight: "bold" },
        axisLine: { show: true, onZero: false, lineStyle: { color: "#9a9ab4", width: 2 } },
        axisTick: { show: true, length: 8, lineStyle: { color: "#333", width: 1.5 } },
        minorTick: { show: true, splitNumber: 10, length: 4, lineStyle: { color: "#555", width: 1 } },
        splitLine: { show: false }, axisLabel: { ...axisText, margin: 12 }
    });
    series.push({
        type: "custom", xAxisIndex: gi, yAxisIndex: gi, data: strips, renderItem: fieldItem(p),
        silent: true, z: 1, progressive: 0, animation: false
    });
    p.contours.forEach((c, ci) =>
    {
        const thin = c === leftContour || (idx < 2 && ci === 0);
        series.push({
            type: "line", xAxisIndex: gi, yAxisIndex: gi, data: c, showSymbol: false, silent: true, smooth: 0.3, z: 3,
            lineStyle: { color: thin ? "#c8102e" : "#d21450", width: thin ? 2 : (idx >= 4 && ci > 1 ? 2.5 : 4) }, animation: false
        });
    });
    if (idx === 2)
    {
        series.push({ type: "line", xAxisIndex: gi, yAxisIndex: gi, data: stripPurple, showSymbol: false, silent: true, z: 3, lineStyle: { color: "#2a0a9a", width: 4 }, animation: false });
        series.push({ type: "line", xAxisIndex: gi, yAxisIndex: gi, data: stripCyan, showSymbol: false, silent: true, z: 3, lineStyle: { color: "#20e0f0", width: 3 }, animation: false });
        series.push({ type: "line", xAxisIndex: gi, yAxisIndex: gi, data: stripRed, showSymbol: false, silent: true, z: 3, lineStyle: { color: "#d21450", width: 2 }, animation: false });
    }
    series.push({
        type: "line", xAxisIndex: gi, yAxisIndex: gi, data: p.edge, showSymbol: false, silent: true, smooth: 0.3, clip: false, z: 4,
        lineStyle: { color: "#000", width: 5 }, areaStyle: { color: "#fff", opacity: 1, origin: "end" }, animation: false
    });

    // colour bar sits in its own little grid
    const lb = legendBoxes[idx];
    grid.push({ left: lb[0], top: lb[1], width: 50, height: 186, show: false });
    xAxis.push({ gridIndex: gi + 1, type: "value", min: 0, max: 1, show: false });
    yAxis.push({
        gridIndex: gi + 1, type: "value", position: "right", min: -0.001, max: 0.001, interval: 0.0005,
        axisLine: { show: false }, splitLine: { show: false },
        axisTick: { show: true, length: 12, lineStyle: { color: "#888", width: 2 } },
        axisLabel: {
            margin: 1, align: "left", color: "#000", fontFamily: fontSerif, fontSize: 26,
            textBorderColor: "#000", textBorderWidth: 0.6,
            formatter: v => v < 0 ? `{n|${v}}` : `{p|${v === 0 ? "0." : v}}`,
            rich: {
                n: { color: "#000", fontFamily: fontSerif, fontSize: 26, textBorderColor: "#000", textBorderWidth: 0.6 },
                p: { color: "#000", fontFamily: fontSerif, fontSize: 26, textBorderColor: "#000", textBorderWidth: 0.6, padding: [0, 0, 0, 9] }
            }
        }
    });
    series.push({
        type: "custom", xAxisIndex: gi + 1, yAxisIndex: gi + 1, data: [legendTicks], renderItem: legendItem,
        silent: true, z: 1, animation: false, clip: false, encode: { x: -1, y: -1 }
    });

    title.push({
        text: titles[idx], left: titleSpots[idx][0], top: titleSpots[idx][1], textAlign: "center", textVerticalAlign: "middle", padding: 0,
        textStyle: { fontFamily: "Liberation Serif", fontSize: 38, fontWeight: "normal", color: "#000" }
    });
});

const chart = echarts.init(document.getElementById("main"), null, { renderer: "canvas" });
chart.setOption({ animation: false, backgroundColor: "#fff", title, grid, xAxis, yAxis, series });
</script>
</body>
</html>
